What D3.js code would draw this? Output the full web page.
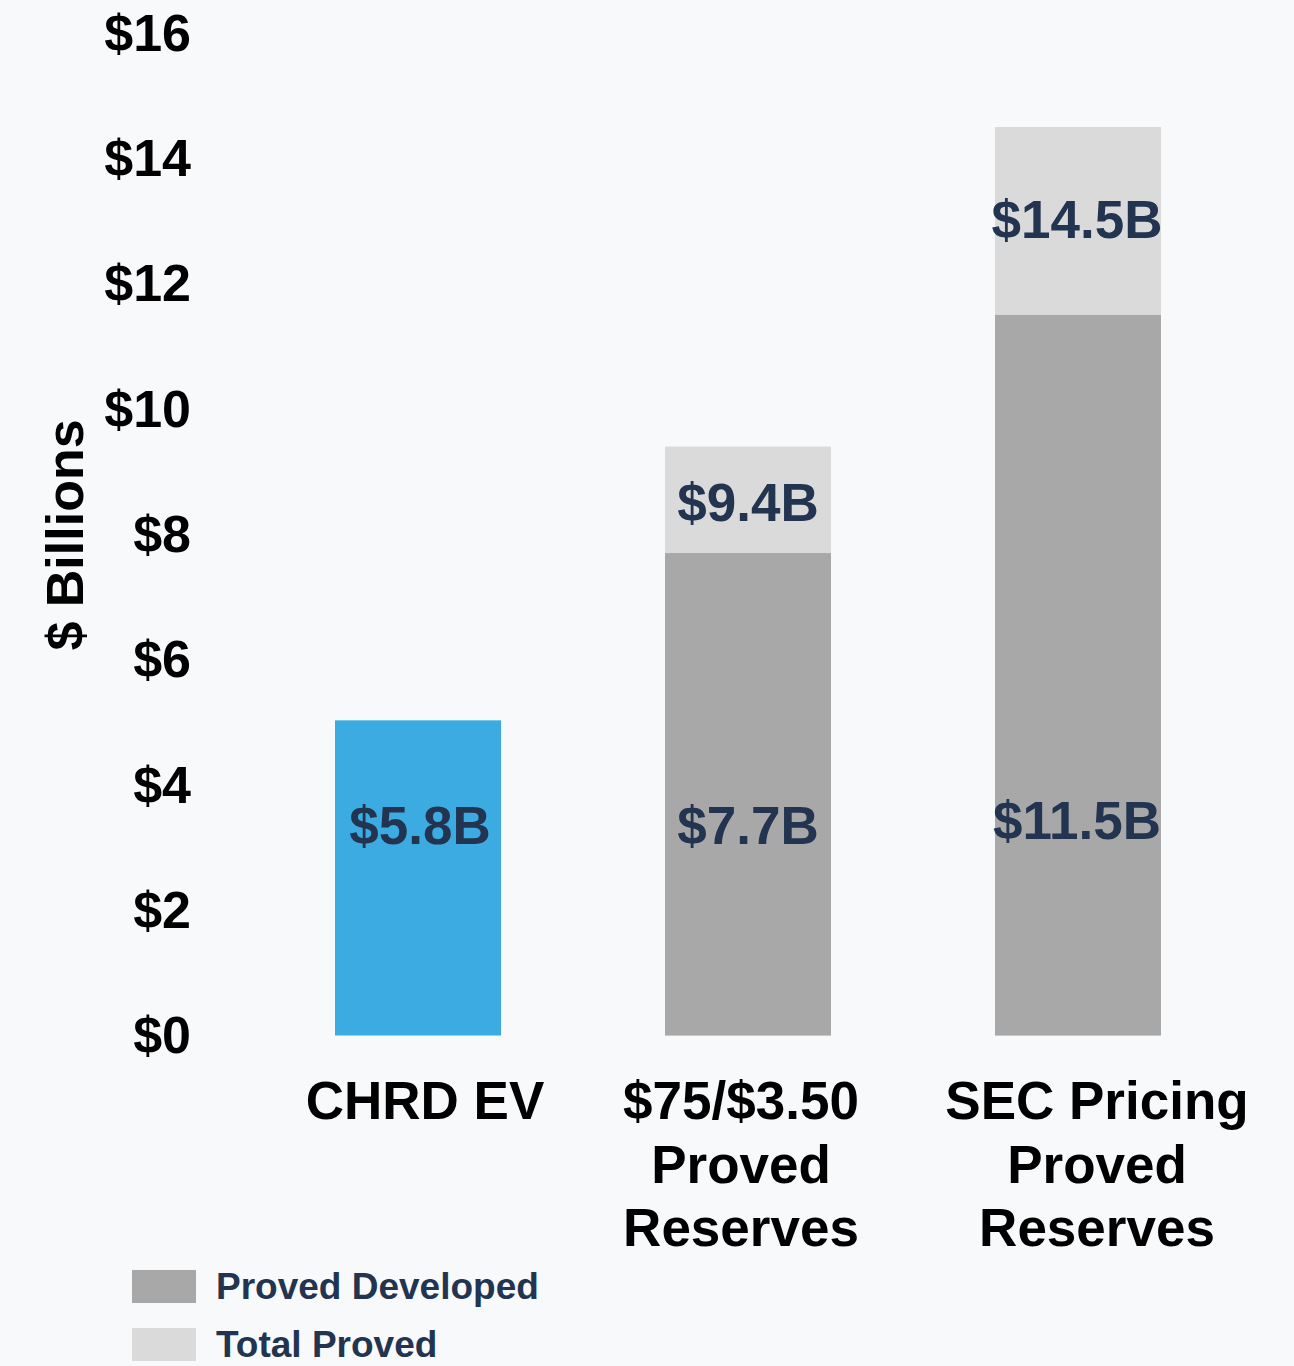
<!DOCTYPE html>
<html>
<head>
<meta charset="utf-8">
<script src="https://cdn.jsdelivr.net/npm/d3@7"></script>
<style>
  html, body { margin: 0; padding: 0; background: #f8f9fb; }
  svg { display: block; font-family: "Liberation Sans", Arial, sans-serif; font-weight: bold; }
</style>
</head>
<body>
<div id="chart"></div>
<script>
var categories = ["CHRD EV", "$75/$3.50 Proved Reserves", "SEC Pricing Proved Reserves"];
var catLines = [["CHRD EV"], ["$75/$3.50", "Proved", "Reserves"], ["SEC Pricing", "Proved", "Reserves"]];
var evValue = [5.03, null, null];
var provedDeveloped = [null, 7.7, 11.5];
var totalProved = [null, 9.4, 14.5];
var evLabels = ["$5.8B", null, null];
var pdLabels = [null, "$7.7B", "$11.5B"];
var tpLabels = [null, "$9.4B", "$14.5B"];
var yTicks = [0, 2, 4, 6, 8, 10, 12, 14, 16];
var legendItems = ["Proved Developed", "Total Proved"];

var width = 1294, height = 1366;
var navy = "#22344f", blue = "#3babe2", darkGrey = "#a8a8a8", lightGrey = "#dadada";
var catLabelDx = [7, -7, 19];

var svg = d3.select("#chart").append("svg")
	.attr("width", width).attr("height", height);

svg.append("rect").attr("width", width).attr("height", height).attr("fill", "#f8f9fb");

var x = d3.scaleBand().domain(categories).range([253, 1243])
	.paddingInner(0.497).paddingOuter(0.2485);
var y = d3.scaleLinear().domain([0, 16]).range([1035.5, 33]);

// y axis, labels only
var yAxis = svg.append("g")
	.attr("transform", "translate(191,0)")
	.call(d3.axisLeft(y).tickValues(yTicks).tickSize(0).tickPadding(0)
		.tickFormat(function(d){ return "$" + d; }));
yAxis.select(".domain").remove();
yAxis.selectAll("text")
	.attr("font-size", 52)
	.attr("font-weight", "bold")
	.attr("font-family", "'Liberation Sans', Arial, sans-serif")
	.attr("fill", "#000")
	.attr("dy", "0.33em");

svg.append("text")
	.attr("transform", "translate(83,535) rotate(-90)")
	.attr("text-anchor", "middle")
	.attr("font-size", 52)
	.attr("fill", "#000")
	.text("$ Billions");

var bars = svg.append("g");

// total proved (light), drawn behind developed
bars.selectAll(".tp").data(categories.filter(function(c, i){ return totalProved[i] != null; }))
	.enter().append("rect")
	.attr("x", function(d){ return x(d); })
	.attr("width", x.bandwidth())
	.attr("y", function(d){ return y(totalProved[categories.indexOf(d)]); })
	.attr("height", function(d){ return y(0) - y(totalProved[categories.indexOf(d)]); })
	.attr("fill", lightGrey);

bars.selectAll(".pd").data(categories.filter(function(c, i){ return provedDeveloped[i] != null; }))
	.enter().append("rect")
	.attr("x", function(d){ return x(d); })
	.attr("width", x.bandwidth())
	.attr("y", function(d){ return y(provedDeveloped[categories.indexOf(d)]); })
	.attr("height", function(d){ return y(0) - y(provedDeveloped[categories.indexOf(d)]); })
	.attr("fill", darkGrey);

bars.selectAll(".ev").data(categories.filter(function(c, i){ return evValue[i] != null; }))
	.enter().append("rect")
	.attr("x", function(d){ return x(d); })
	.attr("width", x.bandwidth())
	.attr("y", function(d){ return y(evValue[categories.indexOf(d)]); })
	.attr("height", function(d){ return y(0) - y(evValue[categories.indexOf(d)]); })
	.attr("fill", blue);

// value labels
var lbl = svg.append("g").attr("fill", navy).attr("font-size", 53).attr("text-anchor", "middle");
categories.forEach(function(c, i) {
	var cx = x(c) + x.bandwidth() / 2;
	var low = evLabels[i] || pdLabels[i];
	lbl.append("text").attr("x", cx + (i === 0 ? 2 : (i === 2 ? -1 : 0)))
		.attr("y", y(i === 2 ? 3.43 : 3.34)).attr("dy", "0.34em").text(low);
	if (tpLabels[i]) {
		lbl.append("text").attr("x", cx - (i === 2 ? 1 : 0))
			.attr("y", (y(totalProved[i]) + y(provedDeveloped[i])) / 2 + (i === 1 ? 3 : -1))
			.attr("dy", "0.34em")
			.text(tpLabels[i]);
	}
});

// category labels
var cat = svg.append("g").attr("font-size", 53).attr("text-anchor", "middle").attr("fill", "#000");
catLines.forEach(function(lines, i) {
	var t = cat.append("text")
		.attr("x", x(categories[i]) + x.bandwidth() / 2 + catLabelDx[i])
		.attr("y", 1119);
	lines.forEach(function(l, j) {
		t.append("tspan")
			.attr("x", x(categories[i]) + x.bandwidth() / 2 + catLabelDx[i])
			.attr("dy", j === 0 ? 0 : 63.5)
			.text(l);
	});
});

// legend
var legend = svg.append("g").attr("transform", "translate(132,1270)");
var lg = legend.selectAll("g").data(legendItems).enter().append("g")
	.attr("transform", function(d, i){ return "translate(0," + (i * 58) + ")"; });
lg.append("rect").attr("width", 64).attr("height", 33)
	.attr("fill", function(d, i){ return i === 0 ? darkGrey : lightGrey; });
lg.append("text").attr("x", 84).attr("y", 16.5).attr("dy", "0.34em")
	.attr("font-size", 37).attr("fill", navy)
	.text(function(d){ return d; });
</script>
</body>
</html>
